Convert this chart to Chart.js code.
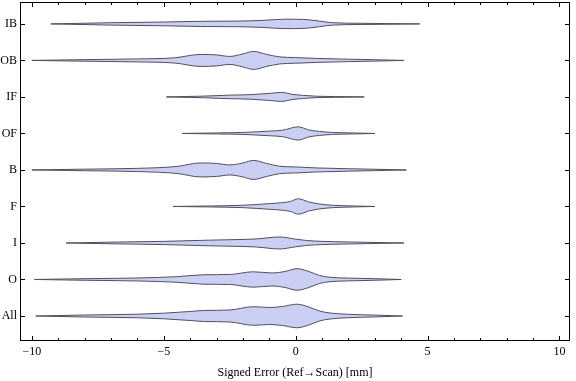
<!DOCTYPE html>
<html>
<head>
<meta charset="utf-8">
<script src="https://cdn.jsdelivr.net/npm/chart.js@4"></script>
<style>
html,body{margin:0;padding:0;background:#fff;}
#wrap{width:576px;height:381px;}
</style>
</head>
<body>
<div id="wrap"><canvas id="c" width="576" height="381"></canvas></div>
<script>
// Categories, top to bottom
const categories = ['IB','OB','IF','OF','B','F','I','O','All'];

// Violin profiles: x = signed error [mm], w = relative density (half-width)
const xIB  = [-9.28,-7,-5,-3.6,-2.2,-1.2,-0.4,0.3,0.9,1.4,2.5,4.7];
const wIB  = [0,1.2,1.9,2.6,2.8,3.6,4.7,4.5,2.8,1.2,0.6,0];

const xOB  = [-10,-8,-6,-4.6,-3.6,-3.0,-2.5,-2.0,-1.6,-1.1,-0.6,0,0.8,2,3,4.1];
const wOB  = [0,0.8,1.5,2.6,6,5.5,4,6.5,9,6,3.5,2.8,2,1.2,0.7,0];

const xIF  = [-4.9,-3.5,-2.6,-1.7,-1.0,-0.55,-0.1,0.3,0.8,1.5,2.6];
const wIF  = [0,0.8,1.7,2.3,3.5,4.5,2.5,1.5,0.7,0.4,0];

const xOF  = [-4.3,-3,-2,-1,-0.5,0.1,0.5,0.9,1.4,2.2,3.0];
const wOF  = [0,0.5,1,2.3,3.2,6.6,3.5,2,1,0.5,0];

const xB   = [-10,-8,-6,-4.5,-3.6,-3.0,-2.5,-2.0,-1.6,-1.1,-0.6,0,0.8,2,3,4.2];
const wB   = [0,0.8,1.6,3.5,7,6.5,5,7,9.5,6.5,3.7,3,2,1.2,0.7,0];

const xF   = [-4.65,-3.2,-2,-1,-0.5,-0.2,0.1,0.5,0.9,1.4,2.2,3.0];
const wF   = [0,0.5,1.2,2.8,3.8,5,7.7,4.5,2.5,1.2,0.5,0];

const xI   = [-8.7,-7,-5,-3.3,-2,-1.5,-0.6,0,0.4,1,2,4.1];
const wI   = [0,0.8,1.6,2.8,3.5,4,6,3.8,2.5,1.6,1,0];

const xO   = [-9.9,-8,-6,-4.5,-3.5,-2.5,-1.6,-0.9,-0.4,0.05,0.5,0.9,1.3,2,3,4.0];
const wO   = [0,0.8,1.5,2.8,4.7,5,7.7,6.5,8,10.8,8,4,2.2,1.4,0.8,0];

const xAll = [-9.85,-8,-6,-5,-4,-3.5,-2.5,-1.6,-1.0,-0.5,0.05,0.5,0.9,1.3,2,3,4.05];
const wAll = [0,1,1.8,2.8,4.5,5.5,6,9.3,8.5,9.5,11.8,9,5,3,1.7,0.9,0];

const profiles = {
  IB:[xIB,wIB], OB:[xOB,wOB], IF:[xIF,wIF], OF:[xOF,wOF], B:[xB,wB],
  F:[xF,wF], I:[xI,wI], O:[xO,wO], All:[xAll,wAll]
};

// Axis tick labels
const xMajorTicks = [-10,-5,0,5,10];

const violinScale = 1/36.5;  // density -> category units
const fillColor = 'rgb(203,207,243)';
const lineColor = 'rgb(80,80,92)';

const n = categories.length;
const catPos = c => n - categories.indexOf(c);

const datasets = [];
categories.forEach(c => {
  const [xs, ws] = profiles[c];
  const y0 = catPos(c);
  datasets.push({
    data: xs.map((x,i) => ({x, y: y0 + ws[i]*violinScale})),
    borderColor: lineColor, borderWidth: 1, pointRadius: 0,
    cubicInterpolationMode: 'monotone', fill: false
  });
  datasets.push({
    data: xs.map((x,i) => ({x, y: y0 - ws[i]*violinScale})),
    borderColor: lineColor, borderWidth: 1, pointRadius: 0,
    cubicInterpolationMode: 'monotone', fill: {target: '-1'}, backgroundColor: fillColor
  });
});

const framePlugin = {
  id: 'frame',
  afterDatasetsDraw(chart) {
    const {ctx, chartArea: a, scales: {x, y}} = chart;
    ctx.save();
    ctx.strokeStyle = '#000';
    ctx.lineWidth = 1;
    ctx.strokeRect(Math.round(a.left)+0.5, Math.round(a.top)+0.5,
                   Math.round(a.right-a.left)-1, Math.round(a.bottom-a.top)-1);
    ctx.beginPath();
    x.ticks.forEach(t => {
      const px = Math.round(x.getPixelForValue(t.value)) + 0.5;
      const len = xMajorTicks.includes(t.value) ? 5 : 3;
      ctx.moveTo(px, a.bottom); ctx.lineTo(px, a.bottom - len);
      ctx.moveTo(px, a.top); ctx.lineTo(px, a.top + len);
    });
    categories.forEach(c => {
      const py = Math.round(y.getPixelForValue(catPos(c))) + 0.5;
      ctx.moveTo(a.left, py); ctx.lineTo(a.left + 5, py);
      ctx.moveTo(a.right, py); ctx.lineTo(a.right - 5, py);
    });
    ctx.stroke();
    ctx.restore();
  }
};

const font = {family: '"Liberation Serif", "Times New Roman", serif', size: 12};
const zeroPad = s => { s.paddingTop = 0; s.paddingBottom = 0; s.paddingLeft = 0; s.paddingRight = 0; };

new Chart(document.getElementById('c'), {
  type: 'line',
  data: {datasets},
  options: {
    responsive: false,
    animation: false,
    layout: {padding: {top: 2, right: 6, left: 0, bottom: 0}},
    plugins: {legend: {display: false}, tooltip: {enabled: false}},
    scales: {
      x: {
        type: 'linear', min: -10.45, max: 10.4,
        grid: {display: false, drawTicks: false}, border: {display: false},
        ticks: {
          stepSize: 1, includeBounds: false, autoSkip: false, maxRotation: 0,
          padding: 4, color: '#000', font,
          callback: v => xMajorTicks.includes(v) ? (v < 0 ? '\u2212' + Math.abs(v) : String(v)) : ''
        },
        title: {display: true, text: 'Signed Error (Ref\u2192Scan) [mm]', color: '#000', font, padding: {top: 0, bottom: 1}},
        afterFit: s => { s.height = 40; zeroPad(s); }
      },
      y: {
        type: 'linear', min: 0.315, max: 9.6,
        grid: {display: false, drawTicks: false}, border: {display: false},
        afterBuildTicks: s => { s.ticks = categories.map(c => ({value: catPos(c)})); },
        ticks: {
          autoSkip: false, padding: 3, color: '#000', font,
          callback: v => categories[n - v]
        },
        afterFit: s => { s.width = 20; zeroPad(s); }
      }
    }
  },
  plugins: [framePlugin]
});
</script>
</body>
</html>
